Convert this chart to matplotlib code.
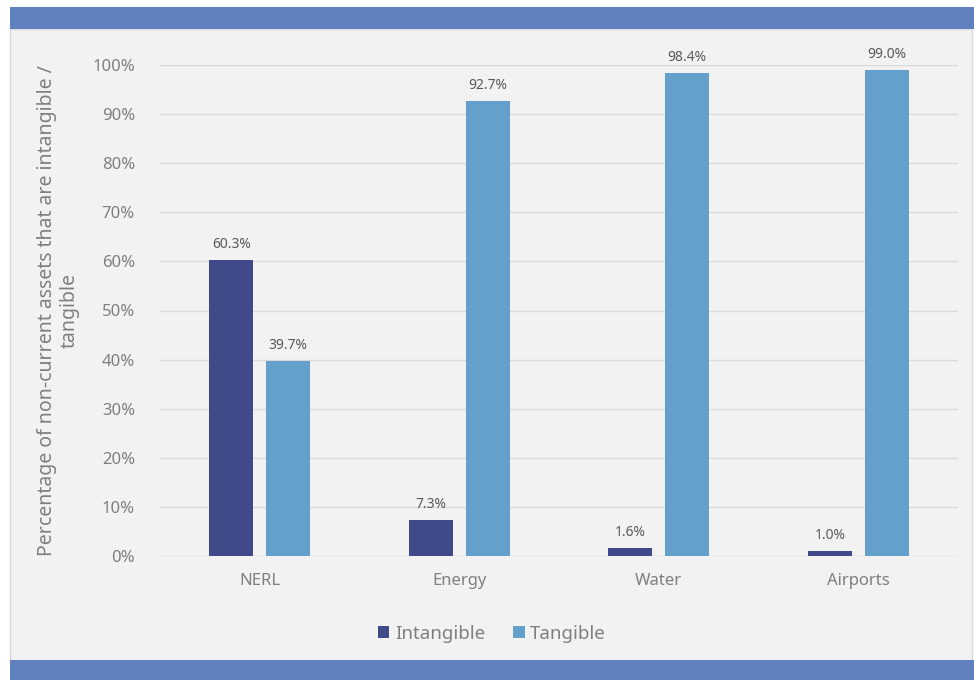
import matplotlib
matplotlib.use("Agg")
import matplotlib.pyplot as plt
import matplotlib.ticker as mticker
from matplotlib.patches import Rectangle
import numpy as np

categories = ["NERL", "Energy", "Water", "Airports"]
intangible = [60.3, 7.3, 1.6, 1.0]
tangible = [39.7, 92.7, 98.4, 99.0]

BLUE_BAND = "#6180c0"
DARK = "#404a88"
LIGHT = "#659fcc"
TEXT = "#7f7f7f"
PANEL = "#f2f2f2"

plt.rcParams["font.family"] = ["Noto Sans", "DejaVu Sans"]

W, H = 974, 680
fig = plt.figure(figsize=(W / 100, H / 100), dpi=100)
fig.patch.set_facecolor("white")

# background panel and blue bands
fig.patches.append(Rectangle((10 / W, 20 / H), 962 / W, 631 / H, transform=fig.transFigure,
                             facecolor=PANEL, edgecolor="#d9d9d9", linewidth=1, zorder=-2))
fig.patches.append(Rectangle((10 / W, 651 / H), 964 / W, 22 / H, transform=fig.transFigure,
                             facecolor=BLUE_BAND, edgecolor="none", zorder=-1))
fig.patches.append(Rectangle((10 / W, 0), 964 / W, 20 / H, transform=fig.transFigure,
                             facecolor=BLUE_BAND, edgecolor="none", zorder=-1))

ax = fig.add_axes([160 / W, 124 / H, 798 / W, 491 / H])
ax.set_facecolor("none")
ax.set_zorder(2)

x = np.arange(len(categories))
w = 0.22
off = 0.1425
b1 = ax.bar(x - off, intangible, w, color=DARK, label="Intangible", zorder=2)
b2 = ax.bar(x + off, tangible, w, color=LIGHT, label="Tangible", zorder=2)

for bars, vals in ((b1, intangible), (b2, tangible)):
    for rect, v in zip(bars, vals):
        ax.text(rect.get_x() + rect.get_width() / 2, v + 1.6, f"{v:.1f}%",
                ha="center", va="bottom", fontsize=10, color="#595959", clip_on=False)

ax.set_xlim(-0.5, len(categories) - 0.5)
ax.set_ylim(0, 100)
ax.set_yticks(np.arange(0, 101, 10))
ax.yaxis.set_major_formatter(mticker.FuncFormatter(lambda v, _: f"{v:.0f}%"))
ax.set_xticks(x)
ax.set_xticklabels(categories)
ax.tick_params(axis="both", length=0, labelsize=12, colors=TEXT)
ax.tick_params(axis="x", pad=12)
ax.tick_params(axis="y", pad=18)
ax.grid(axis="y", color="#d9d9d9", linewidth=1, zorder=0)
for s in ax.spines.values():
    s.set_visible(False)
ax.axhline(0, color="#d9d9d9", linewidth=1, zorder=1)

ax.set_ylabel("Percentage of non-current assets that are intangible /\ntangible",
              fontsize=14, color=TEXT, labelpad=9, linespacing=1.2)

leg = fig.legend(handles=[b1, b2], loc="center", bbox_to_anchor=(492 / W, 46 / H), ncol=2,
                 frameon=False, fontsize=13.5, handlelength=0.6, handleheight=0.6,
                 handletextpad=0.3, columnspacing=1.5)
for t in leg.get_texts():
    t.set_color(TEXT)

fig.savefig("out.png", dpi=100, facecolor=fig.get_facecolor())
